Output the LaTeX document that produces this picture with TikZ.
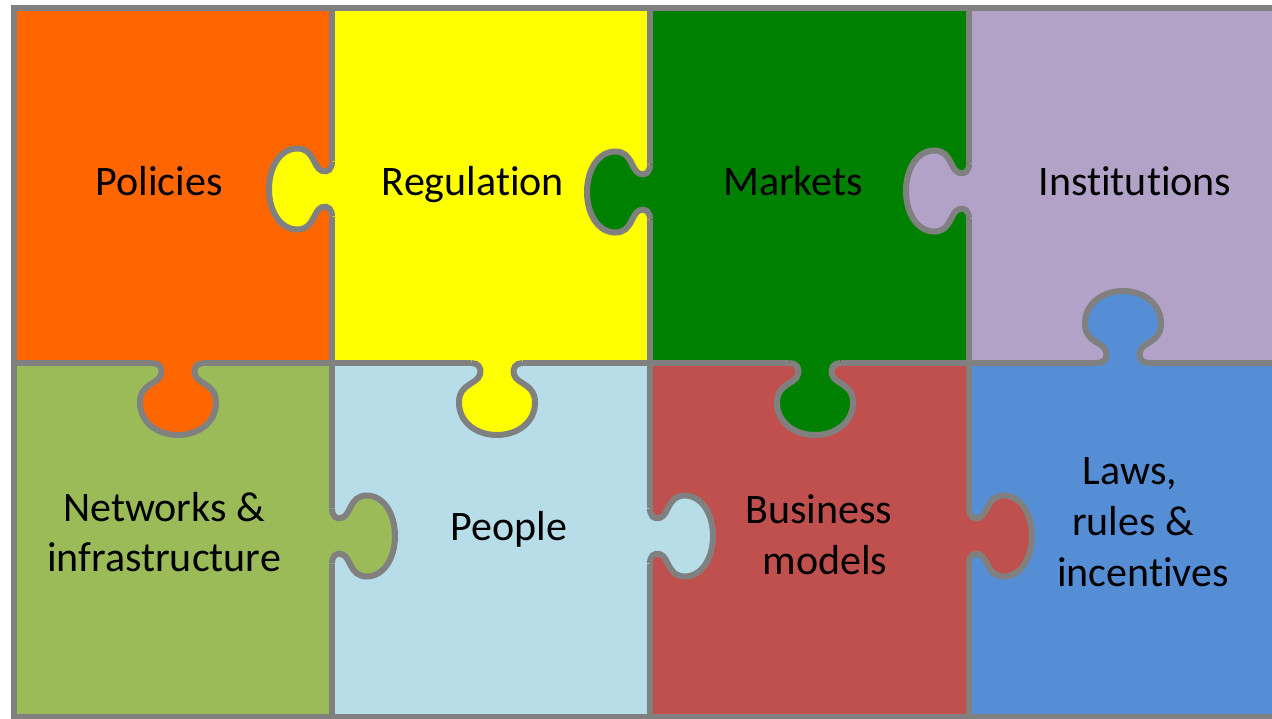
\documentclass[tikz,border=0pt]{standalone}
\usepackage{fontspec}
\setmainfont{Carlito}[Ligatures=CommonOff]

\definecolor{cPolicies}{HTML}{FF6600}
\definecolor{cRegulation}{HTML}{FFFF00}
\definecolor{cMarkets}{HTML}{008000}
\definecolor{cInstitutions}{HTML}{B3A2C7}
\definecolor{cNetworks}{HTML}{9BBB59}
\definecolor{cPeople}{HTML}{B7DEE8}
\definecolor{cBusiness}{HTML}{C0504D}
\definecolor{cLaws}{HTML}{558ED5}
\definecolor{seamgray}{HTML}{808080}

% One puzzle tab in unit coordinates: base on the x-axis, bulb towards +y
\newcommand\tabcurve{(-0.68,0) .. controls (-0.50,0) and (-0.40,0.06) .. (-0.45,0.16)
  .. controls (-0.52,0.30) and (-1,0.28) .. (-1,0.55)
  .. controls (-1,0.82) and (-0.55,1) .. (0,1)
  .. controls (0.55,1) and (1,0.82) .. (1,0.55)
  .. controls (1,0.28) and (0.52,0.30) .. (0.45,0.16)
  .. controls (0.40,0.06) and (0.50,0) .. (0.68,0)}

% #1,#2 base centre, #3 rotation, #4 half width, #5 depth, #6 colour
\newcommand\tabfill[6]{%
  \begin{scope}[shift={(#1,#2)}, rotate=#3, xscale=#4, yscale=#5]
    \fill[#6] \tabcurve -- (0.68,-0.06) -- (-0.68,-0.06) -- cycle;
  \end{scope}}
\newcommand\tabline[5]{%
  \begin{scope}[shift={(#1,#2)}, rotate=#3, xscale=#4, yscale=#5]
    \draw[seam] \tabcurve;
  \end{scope}}

\tikzset{
  seam/.style={draw=seamgray, line width=6pt},
  lbl/.style={font=\fontsize{42}{50}\selectfont, anchor=base, inner sep=0pt, text=black}
}

\begin{document}
\begin{tikzpicture}[x=1pt, y=-1pt]
\useasboundingbox (0,0) rectangle (1272,718);
\fill[white] (0,0) rectangle (1272,718);
\begin{scope}
\clip (0,0) rectangle (1272,718);

% piece bodies
\fill[cPolicies]     (14,8)    rectangle (332,363);
\fill[cRegulation]   (332,8)   rectangle (650,363);
\fill[cMarkets]      (650,8)   rectangle (969,363);
\fill[cInstitutions] (969,8)   rectangle (1288,363);
\fill[cNetworks]     (14,363)  rectangle (332,716.5);
\fill[cPeople]       (332,363) rectangle (650,716.5);
\fill[cBusiness]     (650,363) rectangle (969,716.5);
\fill[cLaws]         (969,363) rectangle (1288,716.5);

% tabs, coloured like the piece they belong to
\tabfill{332}{189}{-90}{40.5}{63}{cRegulation}
\tabfill{650}{192}{-90}{40.5}{63}{cMarkets}
\tabfill{969}{191}{-90}{40.5}{63}{cInstitutions}
\tabfill{332}{536}{90}{40.5}{63}{cNetworks}
\tabfill{650}{536}{90}{40.5}{63}{cPeople}
\tabfill{969}{536}{90}{40.5}{63}{cBusiness}
\tabfill{178}{363}{0}{38}{72}{cPolicies}
\tabfill{497}{363}{0}{38}{72}{cRegulation}
\tabfill{815}{363}{0}{38}{72}{cMarkets}
\tabfill{1123}{363}{180}{38}{72}{cLaws}

% seams between the pieces
\foreach \ex/\ta/\tb in {332/189/536, 650/192/536, 969/191/536}{
  \draw[seam] (\ex,8) -- (\ex,\ta-27.54) (\ex,\ta+27.54) -- (\ex,\tb-27.54)
              (\ex,\tb+27.54) -- (\ex,716.5);
}
\draw[seam] (14,363) -- (178-25.84,363) (178+25.84,363) -- (497-25.84,363)
            (497+25.84,363) -- (815-25.84,363) (815+25.84,363) -- (1123-25.84,363)
            (1123+25.84,363) -- (1288,363);
\tabline{332}{189}{-90}{40.5}{63}
\tabline{650}{192}{-90}{40.5}{63}
\tabline{969}{191}{-90}{40.5}{63}
\tabline{332}{536}{90}{40.5}{63}
\tabline{650}{536}{90}{40.5}{63}
\tabline{969}{536}{90}{40.5}{63}
\tabline{178}{363}{0}{38}{72}
\tabline{497}{363}{0}{38}{72}
\tabline{815}{363}{0}{38}{72}
\tabline{1123}{363}{180}{38}{72}

% outer frame
\draw[seam, line join=miter] (14,8) rectangle (1288,716.5);
\end{scope}

% labels
\node[lbl] (pol) at (159,195) {Policies};
\node[lbl] (reg) at (473,195) {Regulation};
\node[lbl] (mkt) at (793,195) {Markets};
\node[lbl] (ins) at (1135,195) {Institutions};
\node[lbl] (net1) at (164,521) {Networks \&};
\node[lbl] (net2) at (164,571) {infrastructure};
\node[lbl] (ppl) at (509,540) {People};
\node[lbl] (bus1) at (819,523) {Business};
\node[lbl] (bus2) at (825,574) {models};
\node[lbl] (law1) at (1130,484) {Laws,};
\node[lbl] (law2) at (1133,535) {rules \&};
\node[lbl] (law3) at (1143,586) {incentives};
\end{tikzpicture}
\end{document}
